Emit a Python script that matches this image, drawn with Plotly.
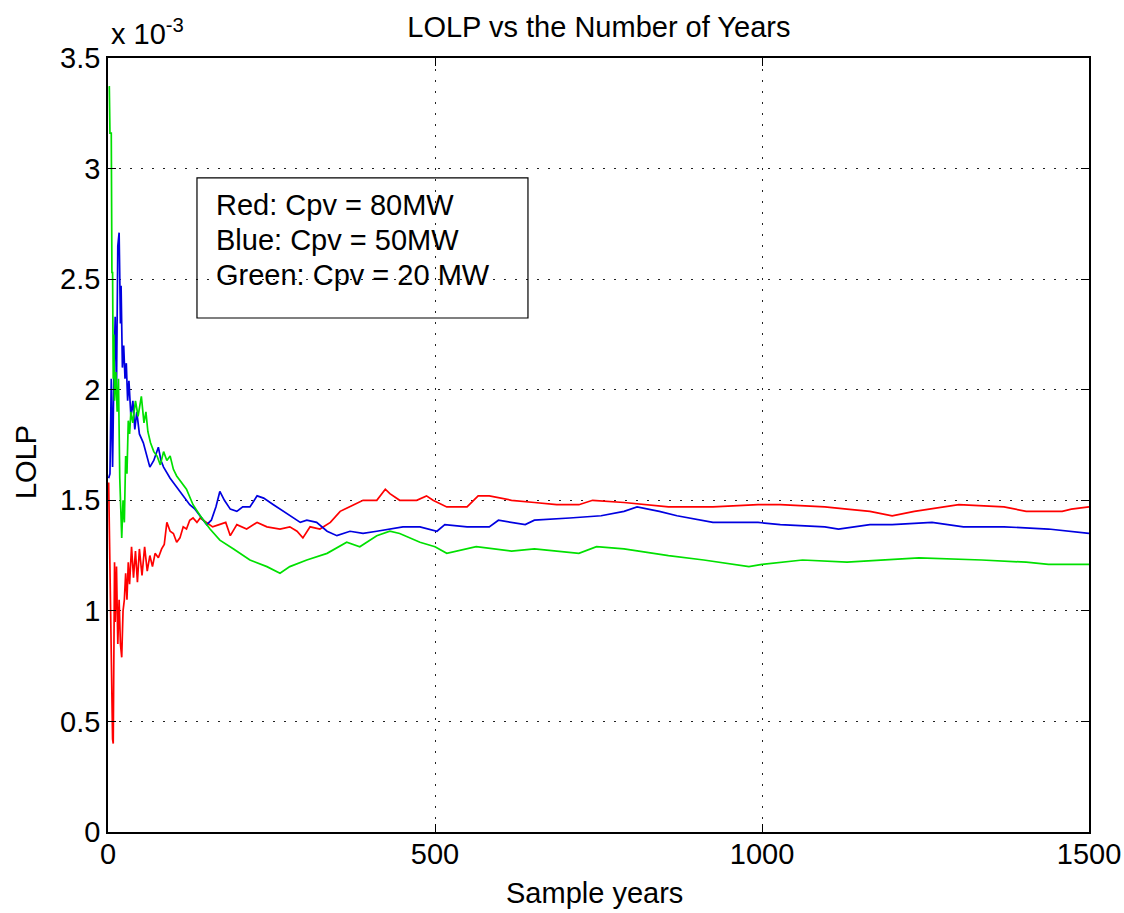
import plotly.graph_objects as go

# Values (LOLP in units of 1e-3)
red_years = [1, 3, 5, 7, 8, 9, 10, 11, 13, 15, 17, 19, 21, 23, 25, 27, 29, 31, 33, 36, 39, 42, 45, 48,
             52, 56, 60, 64, 68, 72, 77, 82, 86, 90, 95, 100, 105, 110, 115, 120, 125, 130, 136, 141,
             150, 160, 170, 180, 187, 197, 212, 228, 243, 263, 278, 289, 298, 309, 324, 340, 355, 375,
             390, 411, 424, 431, 446, 472, 487, 497, 518, 549, 566, 583, 617, 652, 686, 720, 741, 789,
             823, 857, 925, 994, 1028, 1096, 1130, 1165, 1199, 1233, 1301, 1370, 1404, 1459, 1473, 1500]
red_lolp = [1.58, 1.20, 0.75, 0.42, 0.40, 0.70, 1.22, 0.95, 1.20, 0.85, 1.05, 0.85, 0.79, 1.00, 1.05,
            1.17, 1.05, 1.22, 1.12, 1.29, 1.15, 1.27, 1.13, 1.28, 1.16, 1.29, 1.18, 1.25, 1.20, 1.26,
            1.24, 1.28, 1.30, 1.40, 1.36, 1.35, 1.31, 1.33, 1.38, 1.37, 1.41, 1.42, 1.40, 1.42,
            1.40, 1.38, 1.39, 1.40, 1.34, 1.39, 1.37, 1.40, 1.38, 1.37, 1.38, 1.36, 1.33, 1.38, 1.37,
            1.40, 1.45, 1.48, 1.50, 1.50, 1.55, 1.53, 1.50, 1.50, 1.52, 1.50, 1.47, 1.47, 1.52, 1.52,
            1.50, 1.49, 1.48, 1.48, 1.50, 1.49, 1.48, 1.47, 1.47, 1.48, 1.48, 1.47, 1.46, 1.45, 1.43,
            1.45, 1.48, 1.47, 1.45, 1.45, 1.46, 1.47]

blue_years = [1, 3, 5, 7, 9, 11, 13, 15, 17, 19, 20, 22, 24, 26, 28, 30, 32, 35, 38, 41, 44, 48, 54,
              59, 64, 70, 77, 81, 85, 95, 105, 115, 125, 133, 141, 151, 158, 165, 171, 178, 187, 197,
              206, 217, 228, 238, 253, 268, 283, 294, 304, 319, 335, 350, 370, 390, 411, 431, 451, 477,
              503, 515, 549, 583, 597, 638, 652, 706, 754, 789, 809, 843, 870, 925, 994, 1028, 1096,
              1117, 1165, 1199, 1260, 1308, 1370, 1438, 1500]
blue_lolp = [1.60, 1.62, 2.05, 1.65, 2.07, 2.33, 2.00, 2.65, 2.71, 2.30, 2.47, 2.10, 2.20, 2.05, 2.12,
             1.95, 2.04, 1.88, 1.95, 1.82, 1.90, 1.80, 1.76, 1.70, 1.65, 1.68, 1.74, 1.68, 1.65, 1.60,
             1.56, 1.52, 1.48, 1.46, 1.43, 1.39, 1.41, 1.47, 1.54, 1.50, 1.46, 1.45, 1.47, 1.47, 1.52,
             1.51, 1.48, 1.45, 1.42, 1.40, 1.41, 1.40, 1.36, 1.34, 1.36, 1.35, 1.36, 1.37, 1.38, 1.38,
             1.36, 1.39, 1.38, 1.38, 1.41, 1.39, 1.41, 1.42, 1.43, 1.45, 1.47, 1.45, 1.43, 1.40, 1.40,
             1.39, 1.38, 1.37, 1.39, 1.39, 1.40, 1.38, 1.38, 1.37, 1.35]

green_years = [1, 2, 3, 5, 6, 7, 8, 9, 10, 12, 14, 16, 18, 20, 21, 23, 25, 27, 29, 31, 33, 35, 38, 42,
               46, 51, 55, 58, 61, 65, 70, 75, 80, 85, 90, 95, 100, 105, 112, 120, 130, 141, 156, 171,
               192, 217, 243, 263, 278, 304, 335, 365, 385, 411, 431, 446, 477, 500, 518, 563, 617, 652,
               720, 747, 789, 857, 911, 980, 1000, 1062, 1130, 1240, 1336, 1404, 1438, 1500]
green_lolp = [3.37, 3.37, 3.16, 3.16, 2.53, 2.53, 2.05, 2.25, 1.95, 2.08, 1.90, 2.05, 1.60, 1.45, 1.33,
              1.50, 1.40, 1.70, 1.62, 1.86, 1.80, 1.90, 1.85, 1.95, 1.88, 1.97, 1.85, 1.90, 1.81, 1.76,
              1.72, 1.70, 1.66, 1.72, 1.68, 1.70, 1.64, 1.61, 1.58, 1.55, 1.48, 1.43, 1.37, 1.32, 1.28,
              1.23, 1.20, 1.17, 1.20, 1.23, 1.26, 1.31, 1.29, 1.34, 1.36, 1.35, 1.31, 1.29, 1.26, 1.29,
              1.27, 1.28, 1.26, 1.29, 1.28, 1.25, 1.23, 1.20, 1.21, 1.23, 1.22, 1.24, 1.23, 1.22, 1.21,
              1.21]

x_ticks = [0, 500, 1000, 1500]
y_ticks = [0, 0.5, 1, 1.5, 2, 2.5, 3, 3.5]
legend_lines = ["Red: Cpv = 80MW", "Blue: Cpv = 50MW", "Green: Cpv = 20 MW"]

FONT = "Liberation Sans, Arial, sans-serif"
FS = 29

fig = go.Figure()
fig.add_trace(go.Scatter(x=red_years, y=red_lolp, mode="lines",
                         line=dict(color="#ff0000", width=1.7), showlegend=False))
fig.add_trace(go.Scatter(x=blue_years, y=blue_lolp, mode="lines",
                         line=dict(color="#0000e0", width=1.7), showlegend=False))
fig.add_trace(go.Scatter(x=green_years, y=green_lolp, mode="lines",
                         line=dict(color="#00e000", width=1.7), showlegend=False))

axis_common = dict(
    showline=True, linecolor="black", linewidth=1.5, mirror="ticks",
    ticks="inside", ticklen=8, tickcolor="black", automargin=False,
    showgrid=True, gridcolor="#222222", gridwidth=1, griddash="2px,9px",
    zeroline=False, tickfont=dict(family=FONT, size=FS, color="black"),
)

fig.update_xaxes(range=[0, 1500], tickvals=x_ticks, ticktext=[str(v) for v in x_ticks],
                 ticklabelstandoff=-5, **axis_common)
fig.update_yaxes(range=[0, 3.5], tickvals=y_ticks, ticktext=[f"{v:g}" for v in y_ticks],
                 **axis_common)

# Axis titles
fig.add_annotation(text="Sample years", xref="paper", yref="paper", x=0.4964, y=-0.0788,
                   xanchor="center", yanchor="middle", showarrow=False,
                   font=dict(family=FONT, size=FS, color="black"))
fig.add_annotation(text="LOLP", xref="paper", yref="paper", x=-0.0836, y=0.478,
                   xanchor="center", yanchor="middle", showarrow=False, textangle=-90,
                   font=dict(family=FONT, size=FS, color="black"))

# Text box "legend"
fig.add_shape(type="rect", xref="paper", yref="paper",
              x0=0.0907, x1=0.4281, y0=0.6641, y1=0.8450,
              line=dict(color="black", width=1.2), fillcolor="rgba(0,0,0,0)")
line_y = [0.8101, 0.7649, 0.7196]
for txt, yy in zip(legend_lines, line_y):
    fig.add_annotation(text=txt, xref="paper", yref="paper", x=0.108, y=yy,
                       xanchor="left", yanchor="middle", showarrow=False,
                       font=dict(family=FONT, size=FS, color="black"))

# Exponent label
fig.add_annotation(text="x 10<sup>-3</sup>", xref="paper", yref="paper", x=0.001, y=1.008,
                   xanchor="left", yanchor="bottom", showarrow=False,
                   font=dict(family=FONT, size=FS, color="black"))

fig.update_layout(
    width=1124, height=913,
    margin=dict(l=108, r=35, t=58, b=81),
    paper_bgcolor="white", plot_bgcolor="white",
    title=dict(text="LOLP vs the Number of Years", x=0.5328, xanchor="center",
               y=0.971, yanchor="middle",
               font=dict(family=FONT, size=FS, color="black")),
)

fig.write_html("out.html")
